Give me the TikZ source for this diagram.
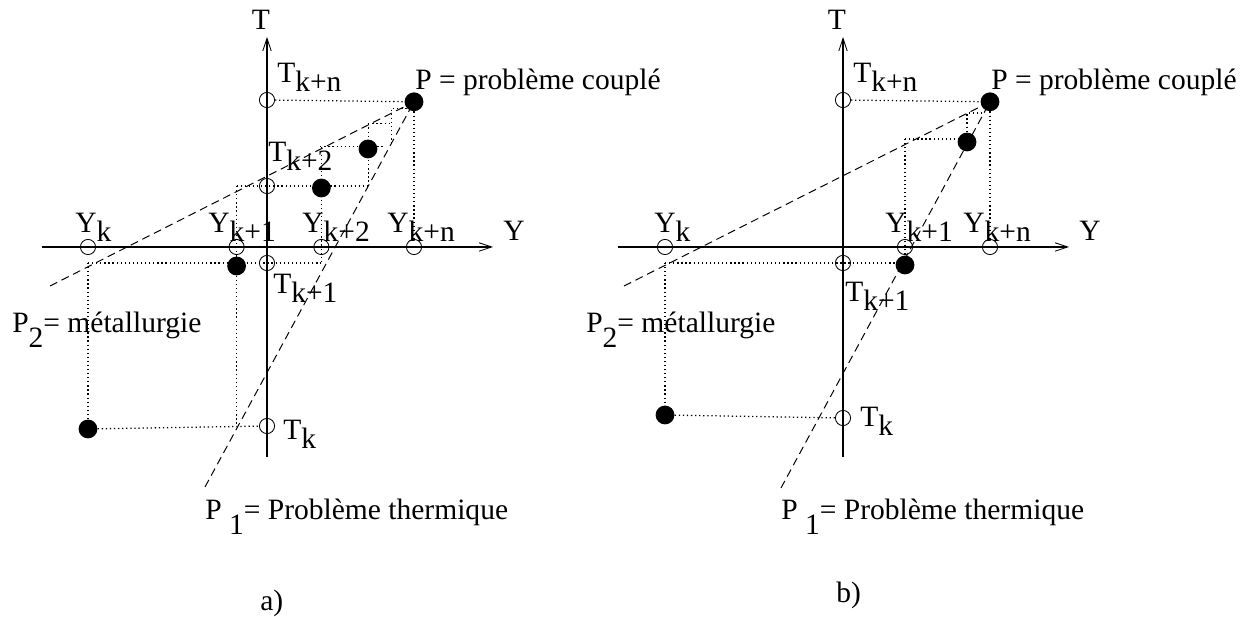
\documentclass[tikz,border=0pt]{standalone}
\usepackage{fontspec}
\setmainfont{Liberation Serif}
\newfontfamily\lblfont{Liberation Serif}
\usetikzlibrary{arrows.meta}

\newcommand{\lowr}[1]{\raisebox{-0.3em}{#1}}
\newcommand{\lowp}[1]{\raisebox{-0.5em}{#1}}

\tikzset{
  axisline/.style={line width=0.8pt, -{Straight Barb[length=9pt,width=6pt,line width=0.6pt]}},
  guide/.style={line width=0.9pt, dash pattern=on 0.9pt off 2pt},
  dashline/.style={line width=0.7pt, dash pattern=on 5.7pt off 3.5pt},
  open/.style={circle, draw, line width=0.6pt, inner sep=0pt, minimum size=0.38cm},
  full/.style={circle, fill, inner sep=0pt, minimum size=0.47cm},
  lbl/.style={anchor=base west, inner sep=0pt},
}

\begin{document}
\begin{tikzpicture}[every node/.style={font=\lblfont\fontsize{21}{25}\selectfont}]
    \useasboundingbox (-6.675,-9.25) rectangle (24.35,6.175);

    % a)
    \begin{scope}
    \coordinate (a-left) at (-5.625,0);
    \coordinate (a-right) at (5.65,0);
    \coordinate (a-bot) at (0,-5.25);
    \coordinate (a-top) at (0,5.25);
    \draw[axisline] (a-left) -- (a-right);
    \draw[axisline] (a-bot) -- (a-top);

    \node[open] (a-yk) at (-4.475,0) {};
    \node[open] (a-yk1) at (-0.76,0) {};
    \node[open] (a-yk2) at (1.36,0) {};
    \node[open] (a-ykn) at (3.675,0) {};
    \node[open] (a-tkn) at (0,3.675) {};
    \node[open] (a-tk2) at (0,1.525) {};
    \node[open] (a-tk1) at (0,-0.4) {};
    \node[open] (a-tk) at (0,-4.475) {};

    \node[full] (a-p) at (3.675,3.63) {};
    \node[full] (a-q3) at (2.525,2.45) {};
    \node[full] (a-q2) at (1.36,1.475) {};
    \node[full] (a-q1) at (-0.76,-0.475) {};
    \node[full] (a-q0) at (-4.475,-4.55) {};

    \coordinate (a-p1) at (-1.55,-6.0);
    \coordinate (a-p2) at (-5.425,-0.975);
    \draw[dashline] (a-p1) -- (a-p.center);
    \draw[dashline] (a-p2) -- (a-p.center);

    \coordinate (a-s1) at (3.12,3.47);
    \coordinate (a-s2) at (3.49,3.47);
    \coordinate (a-s3) at (3.12,2.55);
    \coordinate (a-s4) at (2.53,3.09);
    \coordinate (a-s5) at (3.12,3.09);
    \coordinate (a-s6) at (2.53,1.525);
    \coordinate (a-s7) at (1.33,2.51);
    \coordinate (a-s8) at (2.91,2.51);
    \coordinate (a-s9) at (-0.76,1.525);
    \coordinate (a-s10) at (1.36,-0.4);
    \coordinate (a-s11) at (-4.475,-0.4);

    \draw[guide] (a-tkn) -- (a-p);
    \draw[guide] (a-p) -- (a-ykn);
    \draw[guide] (a-s2) -- (a-s1) -- (a-s3);
    \draw[guide] (a-s4) -- (a-s5);
    \draw[guide] (a-s4) -- (a-s6);
    \draw[guide] (a-s7) -- (a-s8);
    \draw[guide] (a-s7 -| a-yk2) -- (a-s10);
    \draw[guide] (a-s9) -- (a-s6);
    \draw[guide] (a-s9) -- (a-yk1 |- a-tk);
    \draw[guide] (a-s11) -- (a-s10);
    \draw[guide] (a-s11) -- (a-q0);
    \draw[guide] (a-q0) -- (a-tk);

    \node[lbl, anchor=base] (a-tl) at (-0.15,5.425) {T};
    \node[lbl] (a-yl) at (5.9,0.15) {Y};
    \node[lbl] (a-ykl) at (-4.8,0.35) {Y\lowr{k}};
    \node[lbl] (a-yk1l) at (-1.475,0.35) {Y\lowr{k+1}};
    \node[lbl] (a-yk2l) at (0.875,0.35) {Y\lowr{k+2}};
    \node[lbl] (a-yknl) at (3.0,0.35) {Y\lowr{k+n}};
    \node[lbl] (a-tknl) at (0.25,4.1) {T\lowr{k+n}};
    \node[lbl] (a-tk2l) at (0.025,2.125) {T\lowr{k+2}};
    \node[lbl] (a-tk1l) at (0.15,-1.175) {T\lowr{k+1}};
    \node[lbl] (a-tkl) at (0.4,-4.825) {T\lowr{k}};
    \node[lbl] (a-pl) at (3.7,3.925) {P = problème couplé};
    \node[lbl] (a-p2l) at (-6.375,-2.15) {P\lowp{2}= métallurgie};
    \node[lbl] (a-p1l) at (-1.55,-6.825) {P \lowp{1}= Problème thermique};
    \node[lbl] (a-cap) at (-0.175,-9.1) {a)};
    \end{scope}

    % b)
    \begin{scope}[xshift=14.4cm]
    \coordinate (b-left) at (-5.625,0);
    \coordinate (b-right) at (5.65,0);
    \coordinate (b-bot) at (0,-5.25);
    \coordinate (b-top) at (0,5.25);
    \draw[axisline] (b-left) -- (b-right);
    \draw[axisline] (b-bot) -- (b-top);

    \node[open] (b-yk) at (-4.45,0) {};
    \node[open] (b-yk1) at (1.55,0) {};
    \node[open] (b-ykn) at (3.675,0) {};
    \node[open] (b-tkn) at (0,3.675) {};
    \node[open] (b-tk1) at (0,-0.4) {};
    \node[open] (b-tk) at (0,-4.275) {};

    \node[full] (b-p) at (3.675,3.63) {};
    \node[full] (b-q2) at (3.1,2.625) {};
    \node[full] (b-q1) at (1.55,-0.45) {};
    \node[full] (b-q0) at (-4.45,-4.2) {};

    \coordinate (b-p1) at (-1.55,-6.025);
    \coordinate (b-p2) at (-5.475,-0.975);
    \draw[dashline] (b-p1) -- (b-p.center);
    \draw[dashline] (b-p2) -- (b-p.center);

    \coordinate (b-s1) at (3.1,3.35);
    \coordinate (b-s2) at (3.475,3.35);
    \coordinate (b-s3) at (1.55,2.7);
    \coordinate (b-s4) at (-4.45,-0.4);

    \draw[guide] (b-tkn) -- (b-p);
    \draw[guide] (b-p) -- (b-ykn);
    \draw[guide] (b-s2) -- (b-s1) -- (b-q2);
    \draw[guide] (b-s3) -- (b-s3 -| b-q2);
    \draw[guide] (b-s3) -- (b-q1);
    \draw[guide] (b-s4) -- (b-s4 -| b-q1);
    \draw[guide] (b-s4) -- (b-q0);
    \draw[guide] (b-q0) -- (b-tk);

    \node[lbl, anchor=base] (b-tl) at (-0.15,5.425) {T};
    \node[lbl] (b-yl) at (5.9,0.15) {Y};
    \node[lbl] (b-ykl) at (-4.725,0.35) {Y\lowr{k}};
    \node[lbl] (b-yk1l) at (1.05,0.35) {Y\lowr{k+1}};
    \node[lbl] (b-yknl) at (3.0,0.35) {Y\lowr{k+n}};
    \node[lbl] (b-tknl) at (0.25,4.1) {T\lowr{k+n}};
    \node[lbl] (b-tk1l) at (0.05,-1.375) {T\lowr{k+1}};
    \node[lbl] (b-tkl) at (0.425,-4.5) {T\lowr{k}};
    \node[lbl] (b-pl) at (3.7,3.925) {P = problème couplé};
    \node[lbl] (b-p2l) at (-6.425,-2.15) {P\lowp{2}= métallurgie};
    \node[lbl] (b-p1l) at (-1.55,-6.825) {P \lowp{1}= Problème thermique};
    \node[lbl] (b-cap) at (-0.175,-8.9) {b)};
    \end{scope}
\end{tikzpicture}
\end{document}
